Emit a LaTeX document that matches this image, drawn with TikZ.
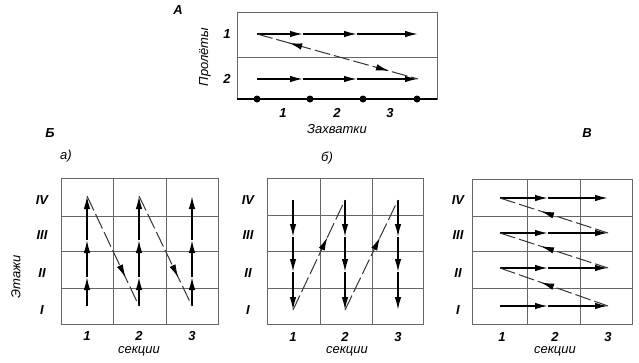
\documentclass[tikz,border=0pt]{standalone}
\usepackage{fontspec}
\setmainfont{Liberation Sans}
\usetikzlibrary{arrows.meta,decorations.markings}
\tikzset{
  grid/.style={draw=black!60, line width=0.9pt},
  diag/.style={draw=black!80, line width=1pt, dash pattern=on 16pt off 4pt},
  tip/.style={-{Latex[length=13pt,width=6.5pt]}, line width=1.5pt},
  fwd/.style={postaction={decorate, decoration={markings, mark=at position #1 with {\arrow[black]{Latex[length=13pt,width=6.5pt]}}}}},
  bwd/.style={postaction={decorate, decoration={markings, mark=at position #1 with {\arrowreversed[black]{Latex[length=13pt,width=6.5pt]}}}}},
  lbl/.style={font=\bfseries\itshape\fontsize{13}{14}\selectfont},
  ttl/.style={font=\itshape\fontsize{13}{14}\selectfont},
  dot/.style={circle, fill=black, inner sep=0pt, minimum size=7pt}
}
\begin{document}
\begin{tikzpicture}[x=1pt,y=-1pt]
\useasboundingbox (0,0) rectangle (639,362);

% ================= Panel A =================
\node[lbl] (tA) at (178,10) {А};
\draw[grid] (237,12) rectangle (437,99);
\draw[grid] (237,57) -- (437,57);
\draw[black, line width=1.2pt] (237,99) -- (437,99);
\foreach \x/\n in {257/d1,310/d2,363/d3,417/d4} \node[dot] (\n) at (\x,99) {};
\node[lbl] (a1) at (227,34) {1};
\node[lbl] (a2) at (227,79) {2};
\node[ttl, rotate=90] (prol) at (205,57) {Пролёты};
\node[lbl] (z1) at (283,113) {1};
\node[lbl] (z2) at (337,113) {2};
\node[lbl] (z3) at (390,113) {3};
\node[ttl] (zah) at (337,129) {Захватки};
\foreach \y in {34,79}{
  \draw[tip] (257,\y) -- (303,\y);
  \draw[tip] (303,\y) -- (357,\y);
  \draw[tip] (357,\y) -- (418,\y);
}
\draw[diag, bwd=0.2, fwd=0.82] (257,34) -- (418,79);

% ================= Panel B a) =================
\node[lbl] (tB) at (50,133) {Б};
\node[ttl] (ta) at (66,156) {а)};
\draw[grid] (61,178) rectangle (218,324);
\foreach \x in {113,166} \draw[grid] (\x,178) -- (\x,324);
\foreach \y in {216,251,288} \draw[grid] (61,\y) -- (218,\y);
\foreach \y/\t in {200/IV,235/III,273/II,310/I} \node[lbl] at (42,\y) {\t};
\foreach \x/\t in {87/1,139/2,192/3} \node[lbl] at (\x,336) {\t};
\node[ttl] (secA) at (139,351) {секции};
\node[ttl, rotate=90] (etaz) at (16,277) {Этажи};
\foreach \x in {87,139,192}{
  \draw[tip] (\x,306) -- (\x,277);
  \draw[tip] (\x,277) -- (\x,240);
  \draw[tip] (\x,240) -- (\x,196);
}
\foreach \xa/\xb in {87/139,139/192}{
  \draw[diag, fwd=0.74] (\xa,196) -- (\xb,306);
}

% ================= Panel B b) =================
\node[ttl] (tb) at (327,158) {б)};
\draw[grid] (267,178) rectangle (423,324);
\foreach \x in {320,372} \draw[grid] (\x,178) -- (\x,324);
\foreach \y in {215,251,288} \draw[grid] (267,\y) -- (423,\y);
\foreach \y/\t in {200/IV,235/III,273/II,310/I} \node[lbl] at (248,\y) {\t};
\foreach \x/\t in {293/1,345/2,398/3} \node[lbl] at (\x,337) {\t};
\node[ttl] (secB) at (347,351) {секции};
\foreach \x in {293,345,398}{
  \draw[tip] (\x,200) -- (\x,237);
  \draw[tip] (\x,237) -- (\x,272);
  \draw[tip] (\x,272) -- (\x,310);
}
\foreach \xa/\xb in {293/345,345/398}{
  \draw[diag, fwd=0.66] (\xa,310) -- (\xb,200);
}

% ================= Panel V =================
\node[lbl] (tV) at (587,133) {В};
\draw[grid] (472,179) rectangle (632,324);
\foreach \x in {527,580} \draw[grid] (\x,179) -- (\x,324);
\foreach \y in {216,251,288} \draw[grid] (472,\y) -- (632,\y);
\foreach \y/\t in {200/IV,235/III,273/II,310/I} \node[lbl] at (458,\y) {\t};
\foreach \x/\t in {502/1,555/2,608/3} \node[lbl] at (\x,337) {\t};
\node[ttl] (secV) at (555,351) {секции};
\foreach \y in {198,233,268,306}{
  \draw[tip] (500,\y) -- (548,\y);
  \draw[tip] (548,\y) -- (608,\y);
}
\foreach \ya/\yb in {198/233,233/268,268/306}{
  \draw[diag, bwd=0.38] (500,\ya) -- (608,\yb);
}
\end{tikzpicture}
\end{document}
